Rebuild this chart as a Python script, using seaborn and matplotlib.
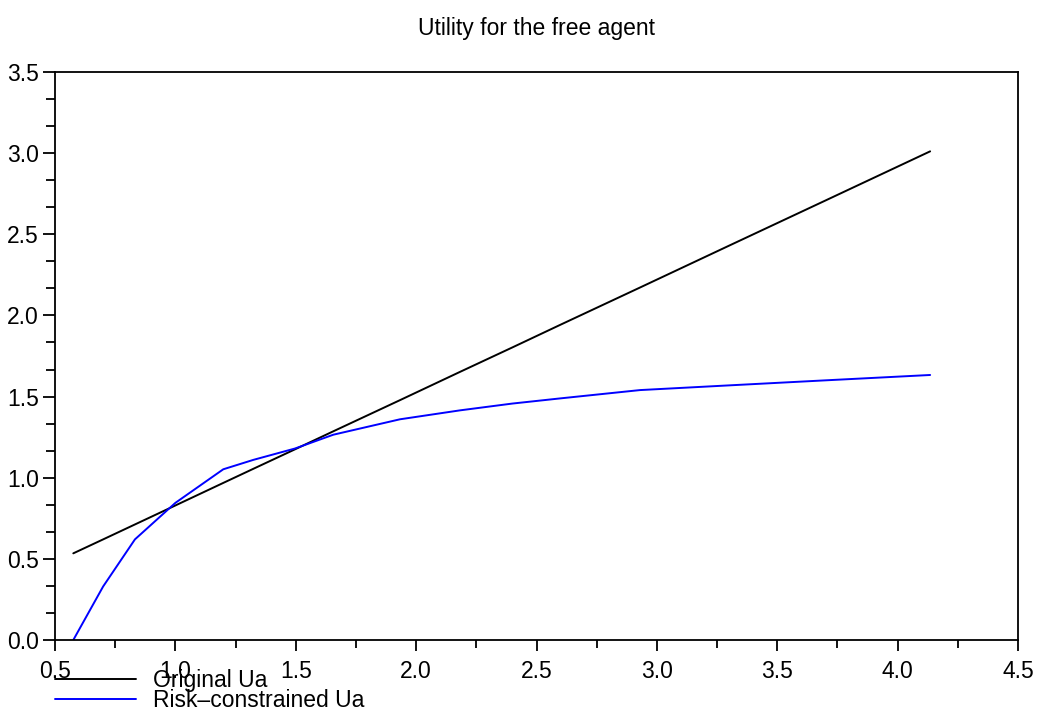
"""
Utility for the free agent: original vs risk-constrained utility
"""

import matplotlib
matplotlib.use('Agg')
import matplotlib.pyplot as plt
import seaborn as sns
import numpy as np
import pandas as pd
from matplotlib.ticker import MultipleLocator

# values
x_vals = [0.576, 0.70, 0.832, 1.0, 1.199, 1.324, 1.497, 1.656, 1.933, 2.182, 2.4, 2.6, 2.93, 3.3, 3.7, 4.135]
original_ua = [0.534, 0.620, 0.712, 0.829, 0.968, 1.055, 1.175, 1.286, 1.478, 1.652,
               1.803, 1.943, 2.172, 2.430, 2.708, 3.011]
risk_ua = [0.0, 0.33, 0.62, 0.845, 1.052, 1.11, 1.18, 1.265, 1.36, 1.415,
           1.457, 1.489, 1.54, 1.569, 1.60, 1.633]
series_names = ['Original Ua', 'Risk–constrained Ua']
series_colors = ['black', 'blue']

FS = 16.5

sns.set_style('ticks')
plt.rcParams['font.family'] = ['Liberation Sans Narrow', 'Liberation Sans', 'DejaVu Sans']
plt.rcParams['font.size'] = FS
plt.rcParams['text.color'] = 'black'
plt.rcParams['xtick.color'] = 'black'
plt.rcParams['ytick.color'] = 'black'
plt.rcParams['xtick.labelcolor'] = 'black'
plt.rcParams['ytick.labelcolor'] = 'black'

df = pd.DataFrame({
    'x': x_vals * 2,
    'y': original_ua + risk_ua,
    'series': [series_names[0]] * len(x_vals) + [series_names[1]] * len(x_vals),
})

fig = plt.figure(figsize=(10.41, 7.19), dpi=100)
ax = fig.add_axes([55 / 1041, 1 - 640 / 719, 963 / 1041, 568 / 719])

sns.lineplot(data=df, x='x', y='y', hue='series', hue_order=series_names,
             palette=dict(zip(series_names, series_colors)),
             linewidth=1.4, ax=ax, legend=True, sort=False)

ax.set_xlim(0.5, 4.5)
ax.set_ylim(0.0, 3.5)
ax.xaxis.set_major_locator(MultipleLocator(0.5))
ax.xaxis.set_minor_locator(MultipleLocator(0.25))
ax.yaxis.set_major_locator(MultipleLocator(0.5))
ax.yaxis.set_minor_locator(MultipleLocator(0.5 / 3))
ax.xaxis.set_major_formatter(plt.FormatStrFormatter('%.1f'))
ax.yaxis.set_major_formatter(plt.FormatStrFormatter('%.1f'))

ax.tick_params(axis='both', which='both', direction='out', width=1.3, color='black',
               labelsize=FS, labelcolor='black', top=False, right=False)
ax.tick_params(axis='x', which='major', length=8, pad=6.5)
ax.tick_params(axis='x', which='minor', length=5.8)
ax.tick_params(axis='y', which='major', length=8.6, pad=3)
ax.tick_params(axis='y', which='minor', length=6.5)
for side in ['top', 'right', 'bottom', 'left']:
    ax.spines[side].set_visible(True)
    ax.spines[side].set_linewidth(1.3)
    ax.spines[side].set_color('black')

ax.set_xlabel('')
ax.set_ylabel('')
ax.set_title('Utility for the free agent', fontsize=FS, pad=26.6, color='black')

# legend sits under the axes, overlapping the x tick labels as in the original
handles, labels = ax.get_legend_handles_labels()
leg = ax.legend(handles, labels, loc='upper left', bbox_to_anchor=(55 / 1041, 1 - 669 / 719),
                bbox_transform=fig.transFigure, frameon=False, fontsize=FS,
                borderpad=0, borderaxespad=0, handlelength=3.54, handletextpad=0.74,
                labelspacing=-0.14)
for t in leg.get_texts():
    t.set_color('black')

fig.savefig('out.png', dpi=100)
plt.close(fig)
